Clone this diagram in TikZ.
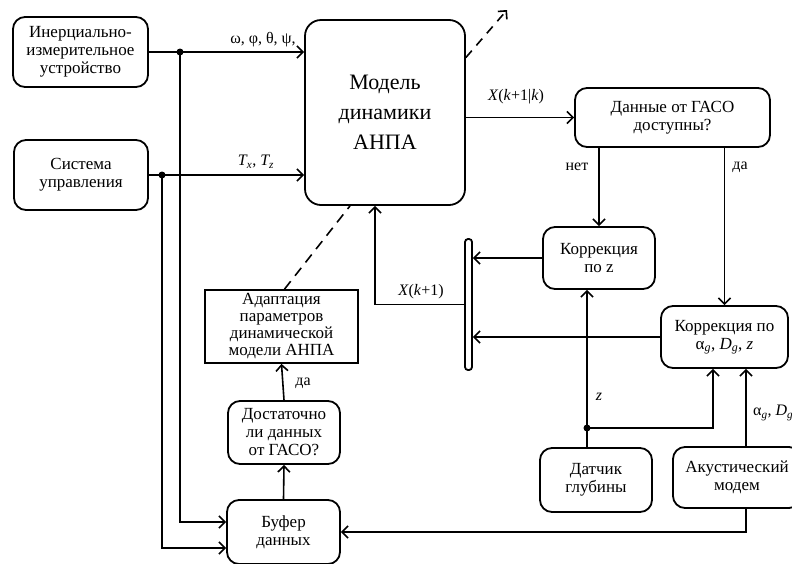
\documentclass[tikz,border=0pt]{standalone}
\usepackage{fontspec}
\setmainfont{Liberation Serif}
\usetikzlibrary{arrows.meta}
\tikzset{
  rb/.style={draw, line width=1.8pt, rounded corners=12pt, align=center, inner sep=0pt,
    font=\fontsize{17}{18}\selectfont},
  sb/.style={draw, line width=1.8pt, align=center, inner sep=0pt,
    font=\fontsize{17}{17}\selectfont},
  ln/.style={line width=1.6pt},
  arr/.style={ln, -{Straight Barb[length=6pt,width=12pt,line width=1.6pt]}},
  lbl/.style={font=\fontsize{16}{18}\selectfont, inner sep=0pt},
  dot/.style={circle, fill, inner sep=0pt, minimum size=7pt}
}
\begin{document}
\begin{tikzpicture}[x=1pt,y=-1pt]
\useasboundingbox (0,0) rectangle (792,563);
% nodes
\node[rb, minimum width=135, minimum height=70] (imu) at (80.5,52) {Инерциально-\\измерительное\\устройство};
\node[rb, minimum width=134, minimum height=70] (sys) at (81,175) {Система\\управления};
\node[rb, minimum width=160, minimum height=185, rounded corners=16pt,
  font=\fontsize{22}{30}\selectfont] (model) at (385,112.5) {Модель\\динамики\\АНПА};
\node[rb, minimum width=195, minimum height=59] (gaso) at (672.5,117.5) {Данные от ГАСО\\доступны?};
\node[rb, minimum width=112, minimum height=62] (corz) at (599,258) {Коррекция\\по z};
\node[rb, minimum width=127, minimum height=62] (cora) at (724.5,337) {Коррекция по\\α\textsubscript{\textit{g}}, \textit{D}\textsubscript{\textit{g}}, \textit{z}};
\node[draw, line width=1.8pt, rounded corners=3pt, minimum width=7, minimum height=131, inner sep=0pt] (bar) at (468.5,304.5) {};
\node[rb, minimum width=112, minimum height=64] (depth) at (596,480) {Датчик\\глубины};
\node[rb, minimum width=128, minimum height=61] (modem) at (737,477.5) {Акустический\\модем};
\node[rb, minimum width=113, minimum height=64] (buf) at (283.5,532) {Буфер\\данных};
\node[rb, minimum width=112, minimum height=63] (dost) at (284,432.5) {Достаточно\\ли данных\\от ГАСО?};
\node[sb, minimum width=153, minimum height=73] (adapt) at (281.5,326.5) {Адаптация\\параметров\\динамической\\модели АНПА};
% junctions
\coordinate (j1) at (180,52);
\coordinate (j2) at (162,175);
\coordinate (zj) at (587,428);
\coordinate (out) at (507,10);
\node[dot] at (j1) {};
\node[dot] at (j2) {};
\node[dot] at (zj) {};
% connectors
\draw[arr] (imu.east) -- (imu.east -| model.west);
\draw[arr] (sys.east) -- (sys.east -| model.west);
\draw[arr] (j1) |- ([yshift=10pt]buf.west);
\draw[arr] (j2) |- ([yshift=-16pt]buf.west);
\draw[arr] (model.east |- gaso.west) -- (gaso.west);
\draw[arr] (corz.north |- gaso.south) -- (corz.north);
\draw[arr] (cora.north |- gaso.south) -- (cora.north);
\draw[arr] (corz.west) -- (corz.west -| bar.east);
\draw[arr] (cora.west) -- (cora.west -| bar.east);
\draw[arr] (bar.west) -| ([xshift=-10pt]model.south);
\draw[arr] (zj |- depth.north) -- (zj |- corz.south);
\draw[arr] (zj) -| ([xshift=-11.5pt]cora.south);
\draw[arr] ([xshift=9pt]modem.north) -- ([xshift=21.5pt]cora.south);
\draw[arr] ([xshift=9pt]modem.south) |- (buf.east);
\draw[arr] (buf.north) -- (dost.south);
\draw[arr] (dost.north) -- (adapt.south);
\draw[ln, dash pattern=on 10pt off 7pt] ([xshift=3pt]adapt.north) -- ([xshift=-35pt]model.south);
\draw[arr, dash pattern=on 9pt off 7pt] ([yshift=55pt]model.east) -- (out);
% labels
\node[lbl] at (263,40) {ω, φ, θ, ψ,};
\node[lbl] at (256,162) {\textit{T\textsubscript{x}}, \textit{T\textsubscript{z}}};
\node[lbl] at (516,97) {\textit{X}(\textit{k}+1|\textit{k})};
\node[lbl] at (577,167) {нет};
\node[lbl] at (740,167) {да};
\node[lbl] at (421,292) {\textit{X}(\textit{k}+1)};
\node[lbl] at (599,397) {\textit{z}};
\node[lbl, anchor=west] at (753,413) {α\textsubscript{\textit{g}}, \textit{D}\textsubscript{\textit{g}}};
\node[lbl] at (303,383) {да};
\end{tikzpicture}
\end{document}
